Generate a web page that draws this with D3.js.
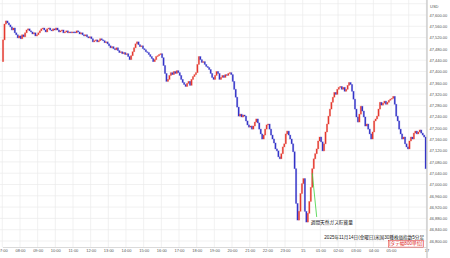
<!DOCTYPE html>
<html>
<head>
<meta charset="utf-8">
<script src="https://cdn.jsdelivr.net/npm/d3@7"></script>
<style>
body { margin: 0; background: #fff; }
svg { display: block; font-family: "Liberation Sans", "Noto Sans CJK JP", sans-serif; }
</style>
</head>
<body>
<svg id="drawing_region"></svg>
<script>
// 5-minute closes, one row per hour, 07:00 -> 06:55
const firstOpen = 47435;
const closes = [
    47512, 47568, 47579, 47572, 47565, 47558, 47547, 47554, 47537, 47530, 47519, 47526,
    47516, 47530, 47523, 47537, 47547, 47551, 47544, 47540, 47533, 47537, 47526, 47530,
    47537, 47544, 47551, 47554, 47547, 47540, 47551, 47554, 47547, 47544, 47551, 47547,
    47554, 47547, 47540, 47544, 47547, 47537, 47540, 47544, 47537, 47540, 47537, 47540,
    47540, 47537, 47544, 47540, 47533, 47537, 47530, 47526, 47530, 47523, 47519, 47523,
    47516, 47505, 47509, 47512, 47505, 47509, 47516, 47512, 47509, 47502, 47505, 47498,
    47491, 47484, 47488, 47481, 47477, 47484, 47474, 47467, 47470, 47463, 47467, 47460,
    47463, 47453, 47442, 47456, 47470, 47484, 47498, 47505, 47495, 47488, 47491, 47481,
    47477, 47470, 47467, 47460, 47453, 47446, 47435, 47442, 47453, 47456, 47460, 47463,
    47449, 47421, 47393, 47365, 47372, 47386, 47396, 47389, 47400, 47393, 47403, 47396,
    47386, 47372, 47361, 47354, 47347, 47358, 47365, 47351, 47372, 47382, 47389, 47396,
    47425, 47453, 47442, 47432, 47435, 47425, 47418, 47414, 47407, 47393, 47379, 47372,
    47386, 47400, 47393, 47372, 47379, 47386, 47379, 47389, 47386, 47393, 47396, 47389,
    47365, 47337, 47309, 47274, 47242, 47249, 47239, 47246, 47242, 47225, 47211, 47203,
    47207, 47196, 47207, 47221, 47232, 47218, 47196, 47179, 47161, 47175, 47196, 47211,
    47214, 47196, 47175, 47161, 47147, 47126, 47119, 47098, 47091, 47109, 47133, 47144,
    47179, 47189, 47175, 47161, 47144, 47116, 47056, 46933, 46874, 46905, 46968, 47003,
    47021, 46905, 46867, 46898, 46940, 46990, 47056, 47091, 47109, 47126, 47154, 47168,
    47151, 47119, 47144, 47186, 47214, 47242, 47267, 47291, 47309, 47326, 47319, 47337,
    47344, 47347, 47337, 47344, 47330, 47337, 47351, 47361, 47354, 47330, 47302, 47267,
    47239, 47221, 47249, 47277, 47260, 47239, 47207, 47214, 47196, 47179, 47161, 47186,
    47225, 47232, 47242, 47267, 47291, 47281, 47288, 47295, 47284, 47291, 47298, 47302,
    47305, 47312, 47284, 47242, 47225, 47196, 47179, 47161, 47168, 47144, 47133, 47126,
    47154, 47168, 47161, 47182, 47189, 47179, 47186, 47193, 47182, 47175, 47168, 47056
];

const hourLabels = ["07:00", "08:00", "09:00", "10:00", "11:00", "12:00", "13:00", "14:00",
    "15:00", "16:00", "17:00", "18:00", "19:00", "20:00", "21:00", "22:00", "23:00",
    "15", "01:00", "02:00", "03:00", "04:00", "05:00", "", "17"];

const gridPrices = [47640, 47600, 47560, 47520, 47480, 47440, 47400, 47360, 47320, 47280,
    47240, 47200, 47160, 47120, 47080, 47040, 47000, 46960, 46920, 46880, 46840, 46800];
const labelPrices = gridPrices.filter(p => p <= 47600);

const event = { label: "週間天然ガス貯蔵量", index: 210, price: 47040, endIndex: 213.5, endPrice: 46885 };
const title = "2025年11月14日(金曜日)米国30種株価指数5分足";
const rangeNote = "[タテ幅800単位]";

const data = closes.map((c, i) => ({ i: i, open: i == 0 ? firstOpen : closes[i - 1], close: c }));

class CandleChart {
    constructor(config, data) {
        this.config = config;
        this.data = data;
        this.init();
    }

    init() {
        let self = this;
        self.svg = d3.select(self.config.parent)
            .attr('width', self.config.width)
            .attr('height', self.config.height);

        self.xscale = d3.scaleLinear().domain([0, 288]).range([2.3, 426.4]);
        self.yscale = d3.scaleLinear().domain([46800, 47600]).range([241, 15]);

        self.svg.append('clipPath').attr('id', 'plot')
            .append('rect').attr('x', 0).attr('y', 0).attr('width', 427).attr('height', 247);
        self.grid = self.svg.append('g');
        self.chart = self.svg.append('g').attr('clip-path', 'url(#plot)');
    }

    render() {
        let self = this;
        const x = self.xscale, y = self.yscale;
        const color = d => d.close > d.open ? '#e5392f' : '#3434c8';

        // grid
        self.grid.selectAll('.hgrid').data(gridPrices).enter().append('line')
            .attr('x1', 0).attr('x2', 427)
            .attr('y1', d => y(d)).attr('y2', d => y(d))
            .attr('stroke', '#ebebeb').attr('stroke-width', 0.7);
        self.grid.selectAll('.vgrid').data(hourLabels).enter().append('line')
            .attr('x1', (d, h) => x(h * 12)).attr('x2', (d, h) => x(h * 12))
            .attr('y1', 0).attr('y2', 247)
            .attr('stroke', '#ebebeb').attr('stroke-width', 0.7);

        // candles
        self.chart.selectAll('rect').data(self.data).enter().append('rect')
            .attr('x', d => x(d.i + 0.5) - 0.65)
            .attr('width', 1.3)
            .attr('y', d => y(Math.max(d.open, d.close)))
            .attr('height', d => Math.max(0.8, Math.abs(y(d.open) - y(d.close))))
            .attr('fill', color)
            .attr('stroke', color).attr('stroke-opacity', 0.35).attr('stroke-width', 0.8);

        // event annotation
        self.chart.append('line')
            .attr('x1', x(event.index + 0.5)).attr('y1', y(event.price))
            .attr('x2', x(event.endIndex)).attr('y2', y(event.endPrice))
            .attr('stroke', '#3ed23e').attr('stroke-width', 0.8);
        self.svg.append('text')
            .attr('x', x(event.endIndex) - 6).attr('y', y(event.endPrice) + 7)
            .attr('font-size', 4.7).attr('fill', '#222')
            .text(event.label);

        // x axis
        const xaxis = d3.axisBottom(x)
            .tickValues(hourLabels.map((d, h) => h * 12))
            .tickFormat(d => hourLabels[d / 12])
            .tickSize(0).tickPadding(2.2);
        const xg = self.svg.append('g').attr('transform', 'translate(0,247)').call(xaxis);
        xg.select('.domain').attr('stroke', '#d0d0d0').attr('stroke-width', 0.8);
        xg.selectAll('text').attr('font-size', 4).attr('fill', '#555').attr('font-family', 'Liberation Sans');

        // right price axis
        self.svg.append('line').attr('x1', 427).attr('x2', 427).attr('y1', 0).attr('y2', 258)
            .attr('stroke', '#c4c4c4').attr('stroke-width', 1.2);
        const yaxis = d3.axisRight(y)
            .tickValues(labelPrices)
            .tickFormat(d3.format(',.2f'))
            .tickSize(0).tickPadding(2.5);
        const yg = self.svg.append('g').attr('transform', 'translate(427,0)').call(yaxis);
        yg.select('.domain').remove();
        yg.selectAll('text').attr('font-size', 4).attr('fill', '#555').attr('font-family', 'Liberation Sans');
        self.svg.append('text').attr('x', 430).attr('y', 7.5)
            .attr('font-size', 4).attr('fill', '#555').text('USD');

        // captions
        self.svg.append('text').attr('x', 424).attr('y', 238.5)
            .attr('text-anchor', 'end').attr('font-size', 4.6).attr('fill', '#222')
            .text(title);
        const note = self.svg.append('text').attr('x', 422.5).attr('y', 245)
            .attr('text-anchor', 'end').attr('font-size', 4.6).attr('fill', '#e02020')
            .text(rangeNote);
        const bb = note.node().getBBox();
        self.svg.append('rect')
            .attr('x', bb.x - 1).attr('y', bb.y + 0.3)
            .attr('width', bb.width + 2).attr('height', bb.height - 0.2)
            .attr('fill', 'none').attr('stroke', '#e02020').attr('stroke-width', 0.5);
    }
}

const chart = new CandleChart({ parent: '#drawing_region', width: 450, height: 258 }, data);
chart.render();
</script>
</body>
</html>
